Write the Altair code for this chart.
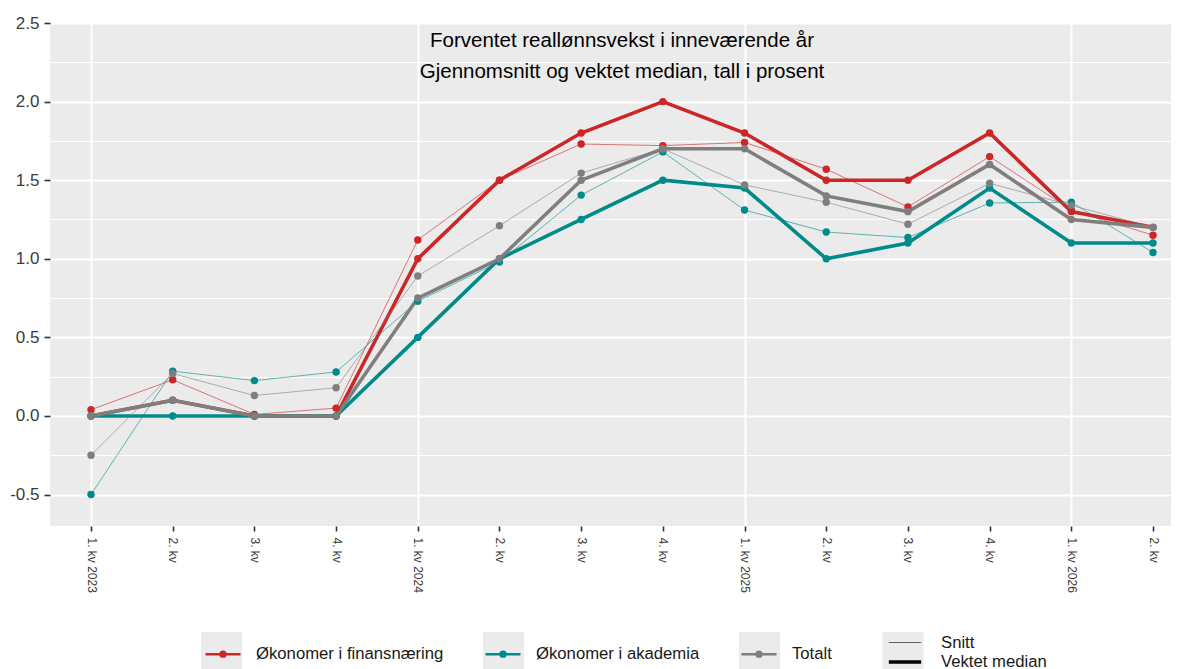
import json
import altair as alt
import pandas as pd

# ---------------- data ----------------
quarter_labels = ["1. kv 2023", "2. kv", "3. kv", "4. kv",
                  "1. kv 2024", "2. kv", "3. kv", "4. kv",
                  "1. kv 2025", "2. kv", "3. kv", "4. kv",
                  "1. kv 2026", "2. kv"]

series_names = ["Økonomer i finansnæring", "Økonomer i akademia", "Totalt"]
measure_names = ["Snitt", "Vektet median"]

finans_snitt = [0.04, 0.23, 0.01, 0.05, 1.12, 1.50, 1.73, 1.72, 1.74, 1.57, 1.33, 1.65, 1.31, 1.15]
finans_median = [0.0, 0.1, 0.0, 0.0, 1.0, 1.5, 1.8, 2.0, 1.8, 1.5, 1.5, 1.8, 1.3, 1.2]
akademia_snitt = [-0.5, 0.285, 0.225, 0.28, 0.73, 0.98, 1.405, 1.68, 1.31, 1.17, 1.135, 1.355, 1.36, 1.04]
akademia_median = [0.0, 0.0, 0.0, 0.0, 0.5, 1.0, 1.25, 1.5, 1.45, 1.0, 1.1, 1.45, 1.1, 1.1]
totalt_snitt = [-0.25, 0.27, 0.13, 0.18, 0.89, 1.21, 1.545, 1.70, 1.47, 1.36, 1.22, 1.48, 1.34, 1.2]
totalt_median = [0.0, 0.1, 0.0, 0.0, 0.75, 1.0, 1.5, 1.7, 1.7, 1.4, 1.3, 1.6, 1.25, 1.2]

series_colors = ["#CD2626", "#008B8B", "#7F7F7F"]
title_lines = ["Forventet reallønnsvekst i inneværende år",
               "Gjennomsnitt og vektet median, tall i prosent"]

# ---------------- long table ----------------
values_by_series = [
    (finans_snitt, finans_median),
    (akademia_snitt, akademia_median),
    (totalt_snitt, totalt_median),
]
rows = []
for s, pair in zip(series_names, values_by_series):
    for m, vals in zip(measure_names, pair):
        for i, v in enumerate(vals):
            rows.append({"q": i, "serie": s, "maal": m, "verdi": v})
df = pd.DataFrame(rows)

FONT = "Liberation Sans, Arial, Helvetica, sans-serif"
PANEL = "#EBEBEB"
LEG_FONT = 16.7
KEY_BOX = 41 * 41  # symbol area of the grey legend-key backgrounds

label_expr_x = json.dumps(quarter_labels, ensure_ascii=False) + "[datum.value]"
y_values = [-0.5, -0.25, 0.0, 0.25, 0.5, 0.75, 1.0, 1.25, 1.5, 1.75, 2.0, 2.25, 2.5]
is_major_y = "abs(datum.value * 2 - round(datum.value * 2)) < 1e-9"
label_expr_y = ("(" + is_major_y + ") ? replace(format(datum.value, '.1f'), '\u2212', '-') : ''")

x_enc = alt.X(
    "q:Q",
    scale=alt.Scale(domain=[-0.502, 13.22], nice=False, zero=False),
    axis=alt.Axis(
        values=list(range(len(quarter_labels))),
        labelExpr=label_expr_x,
        labelAngle=90,
        labelAlign="left",
        labelBaseline="middle",
        labelFontSize=12,
        labelFont=FONT,
        labelColor="#3c3c3c",
        labelPadding=6,
        labelOverlap=False,
        labelBound=False,
        tickColor="#333333",
        tickSize=5,
        tickWidth=1.6,
        domain=False,
        grid=True,
        gridColor="white",
        gridWidth=2,
        gridOpacity={"condition": {"test": "datum.value % 4 === 0", "value": 1}, "value": 0},
        title=None,
    ),
)

y_enc = alt.Y(
    "verdi:Q",
    scale=alt.Scale(domain=[-0.7, 2.5], nice=False, zero=False),
    axis=alt.Axis(
        values=y_values,
        labelExpr=label_expr_y,
        labelFontSize=17,
        labelFont=FONT,
        labelColor="#3c3c3c",
        labelPadding=5,
        tickColor="#333333",
        tickSize=6,
        tickWidth=1.6,
        tickOpacity={"condition": {"test": is_major_y, "value": 1}, "value": 0},
        domain=False,
        grid=True,
        gridColor="white",
        gridWidth={"condition": {"test": is_major_y, "value": 2}, "value": 1},
        minExtent=42,
        maxExtent=42,
        title=None,
    ),
)

color_enc = alt.Color(
    "serie:N",
    scale=alt.Scale(domain=series_names, range=series_colors),
    legend=alt.Legend(
        orient="none",
        legendX=154,
        legendY=612,
        direction="horizontal",
        columns=3,
        title=None,
        symbolType="M-1,0L1,0M0.14,0A0.14,0.14,0,1,1,-0.14,0A0.14,0.14,0,1,1,0.14,0Z",
        symbolSize=1225,
        symbolStrokeWidth=2.5,
        labelFontSize=LEG_FONT,
        labelFont=FONT,
        labelColor="#1a1a1a",
        labelOffset=14,
        labelLimit=500,
        columnPadding=36,
        padding=0,
    ),
)

base = alt.Chart(df).transform_calculate(
    key="indexof(" + json.dumps(series_names, ensure_ascii=False) + ", datum.serie)"
)

# grey key backgrounds behind the legend entries (invisible marks, legend only)
boxes_a = base.mark_point(filled=True, opacity=0).encode(
    x="q:Q",
    y="verdi:Q",
    fill=alt.Fill(
        "key:N",
        scale=alt.Scale(domain=[0, 1], range=[PANEL, PANEL]),
        legend=alt.Legend(
            orient="none",
            legendX=151,
            legendY=609,
            direction="horizontal",
            columns=2,
            title=None,
            symbolType="square",
            symbolSize=KEY_BOX,
            symbolStrokeWidth=0,
            symbolOpacity=1,
            labelExpr="''",
            labelOffset=0,
            columnPadding=241,
            padding=0,
        ),
    ),
)

boxes_b = base.mark_point(filled=True, opacity=0, color=PANEL).encode(
    x="q:Q",
    y="verdi:Q",
    shape=alt.Shape(
        "key:N",
        scale=alt.Scale(domain=[2, 3], range=["square", "square"]),
        legend=alt.Legend(
            orient="none",
            legendX=689,
            legendY=609,
            direction="horizontal",
            columns=2,
            title=None,
            symbolType="square",
            symbolSize=KEY_BOX,
            symbolFillColor=PANEL,
            symbolStrokeWidth=0,
            symbolOpacity=1,
            labelExpr="''",
            labelOffset=0,
            columnPadding=102.5,
            padding=0,
        ),
    ),
)

lines = base.mark_line().encode(
    x=x_enc,
    y=y_enc,
    color=color_enc,
    strokeWidth=alt.StrokeWidth(
        "maal:N",
        scale=alt.Scale(domain=measure_names, range=[1.0, 3.6]),
        legend=alt.Legend(
            orient="none",
            legendX=844.5,
            legendY=610.5,
            direction="vertical",
            title=None,
            symbolType="M-1.9,0L1.9,0",
            symbolSize=289,
            symbolStrokeColor="black",
            labelFontSize=LEG_FONT,
            labelFont=FONT,
            labelColor="#1a1a1a",
            labelOffset=25.5,
            rowPadding=0,
            padding=0,
        ),
    ),
    opacity=alt.Opacity("maal:N", scale=alt.Scale(domain=measure_names, range=[0.6, 1.0]), legend=None),
    detail="maal:N",
)

points = base.mark_point(filled=True, size=55, opacity=1).encode(
    x=alt.X("q:Q"),
    y=alt.Y("verdi:Q"),
    color=alt.Color("serie:N"),
)

chart = (
    alt.layer(boxes_a, boxes_b, lines, points)
    .properties(
        width=1121,
        height=503,
        padding={"left": 0, "top": 6, "right": 0, "bottom": 0},
        title=alt.TitleParams(
            text=title_lines,
            font=FONT,
            fontSize=20.5,
            fontWeight="normal",
            color="black",
            anchor="middle",
            lineHeight=31,
            offset=-68,
            dx=11.5,
        ),
    )
    .configure(background="white", view=alt.ViewConfig(fill=PANEL, stroke=None))
)

chart.save("out.html", embed_options={"renderer": "svg", "actions": False})
